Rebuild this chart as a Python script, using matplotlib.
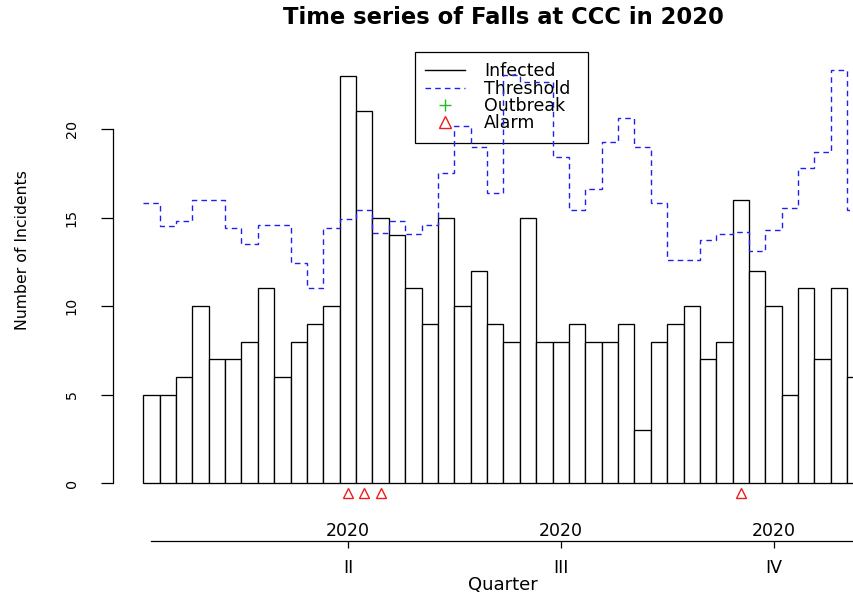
import numpy as np
import matplotlib
matplotlib.use("Agg")
import matplotlib.pyplot as plt
from matplotlib.lines import Line2D
from matplotlib import transforms

# ---------------- data ----------------
weeks = list(range(1, 45))
infected = [5, 5, 6, 10, 7, 7, 8, 11, 6, 8, 9, 10, 23, 21, 15, 14, 11, 9, 15, 10,
            12, 9, 8, 15, 8, 8, 9, 8, 8, 9, 3, 8, 9, 10, 7, 8, 16, 12, 10, 5,
            11, 7, 11, 6]
threshold = [15.8, 14.55, 14.8, 16.0, 16.0, 14.4, 13.5, 14.6, 14.6, 12.45,
             11.05, 14.4, 14.95, 15.45, 14.15, 14.8, 14.05, 14.6, 17.5, 20.2,
             19.0, 16.4, 23.05, 22.65, 22.65, 18.45, 15.45, 16.6, 19.25, 20.6,
             19.0, 15.85, 12.6, 12.6, 13.75, 14.05, 14.2, 13.1, 14.3, 15.55,
             17.8, 18.7, 23.35, 15.45]
alarm_weeks = [13, 14, 15, 37]
outbreak_weeks = []
quarter_weeks = [13, 26, 39]
quarter_labels = ["II", "III", "IV"]
year_labels = ["2020", "2020", "2020"]
y_ticks = [0, 5, 10, 15, 20]

title = "Time series of Falls at CCC in 2020"

# ---------------- figure ----------------
W, H = 854, 595
fig = plt.figure(figsize=(W / 100, H / 100), dpi=100)

# axes geometry (pixel based)
xlim = (-1.33, 46.26)
ylim = (-1.3, 24.8)
left_px, right_px = 113.3, 892.4
bottom_px, top_px = 506.3, 44.1
ax = fig.add_axes([left_px / W, 1 - bottom_px / H,
                   (right_px - left_px) / W, (bottom_px - top_px) / H])
ax.set_xlim(*xlim)
ax.set_ylim(*ylim)
ax.set_facecolor("none")

# bars
ax.bar(weeks, infected, width=1.0, facecolor="white", edgecolor="black",
       linewidth=0.95, zorder=1)

# threshold as steps
edges = np.arange(0.5, len(threshold) + 1.0, 1.0)
ax.stairs(threshold, edges, baseline=None, color="#1f1fee", linewidth=1.0,
          linestyle=(0, (4, 3)), zorder=3)

# alarms
alarm_y = -0.55
ax.plot(alarm_weeks, [alarm_y] * len(alarm_weeks), linestyle="none",
        marker="^", markersize=7, markerfacecolor="none",
        markeredgecolor="#ee1c1c", markeredgewidth=1.0, clip_on=False, zorder=4)
if outbreak_weeks:
    ax.plot(outbreak_weeks, [alarm_y] * len(outbreak_weeks), linestyle="none",
            marker="+", color="#22bb22", clip_on=False)

# spines
for s in ["top", "right"]:
    ax.spines[s].set_visible(False)
ax.spines["left"].set_bounds(0, 20)
ax.spines["left"].set_linewidth(0.9)
ax.spines["bottom"].set_position(("outward", (540.7 - bottom_px) * 0.72))
ax.spines["bottom"].set_bounds(1, 44)
ax.spines["bottom"].set_linewidth(0.9)

# y axis
ax.set_yticks(y_ticks)
ax.set_yticklabels([str(v) for v in y_ticks], rotation=90, va="center",
                   fontsize=10.3)
ax.tick_params(axis="y", length=8.3, width=0.9, pad=16.5, direction="out")

# x axis (quarters)
ax.set_xticks(quarter_weeks)
ax.set_xticklabels(quarter_labels, fontsize=12.5)
ax.tick_params(axis="x", length=4.8, width=0.9, pad=8.5, direction="out")

blend = transforms.blended_transform_factory(ax.transData, fig.transFigure)
for wk, yl in zip(quarter_weeks, year_labels):
    ax.text(wk, 1 - 531 / H, yl, transform=blend, ha="center", va="center",
            fontsize=12.5, clip_on=False)

ax.set_xlabel("Quarter", fontsize=13)
ax.xaxis.set_label_coords((503 - left_px) / (right_px - left_px),
                          (bottom_px - 585) / (bottom_px - top_px))
ax.xaxis.label.set_va("center")

ax.set_ylabel("Number of Incidents", fontsize=11.3)
ax.yaxis.set_label_coords((23 - left_px) / (right_px - left_px),
                          (bottom_px - 250) / (bottom_px - top_px))
ax.yaxis.label.set_va("center")

# title
fig.text(503 / W, 1 - 17 / H, title, ha="center", va="center",
         fontsize=16.3, fontweight="bold")

# legend
handles = [
    Line2D([], [], color="black", linewidth=1.0),
    Line2D([], [], color="#1f1fee", linewidth=1.0, linestyle=(0, (4, 3))),
    Line2D([], [], linestyle="none", marker="+", color="#22bb22",
           markersize=9, markeredgewidth=1.0),
    Line2D([], [], linestyle="none", marker="^", markerfacecolor="none",
           markeredgecolor="#ee1c1c", markersize=8, markeredgewidth=1.0),
]
labels = ["Infected", "Threshold", "Outbreak", "Alarm"]
leg = ax.legend(handles, labels, loc="upper left",
                bbox_to_anchor=(415 / W, 1 - 143 / H, 173 / W, 91 / H),
                bbox_transform=fig.transFigure, mode="expand",
                fontsize=12.5, handlelength=2.3, handletextpad=1.09,
                borderpad=0.6, labelspacing=-0.04, borderaxespad=0,
                fancybox=False, framealpha=1, edgecolor="black")
leg.get_frame().set_linewidth(0.9)
leg.set_zorder(2.5)

fig.savefig("out.png", dpi=100)
